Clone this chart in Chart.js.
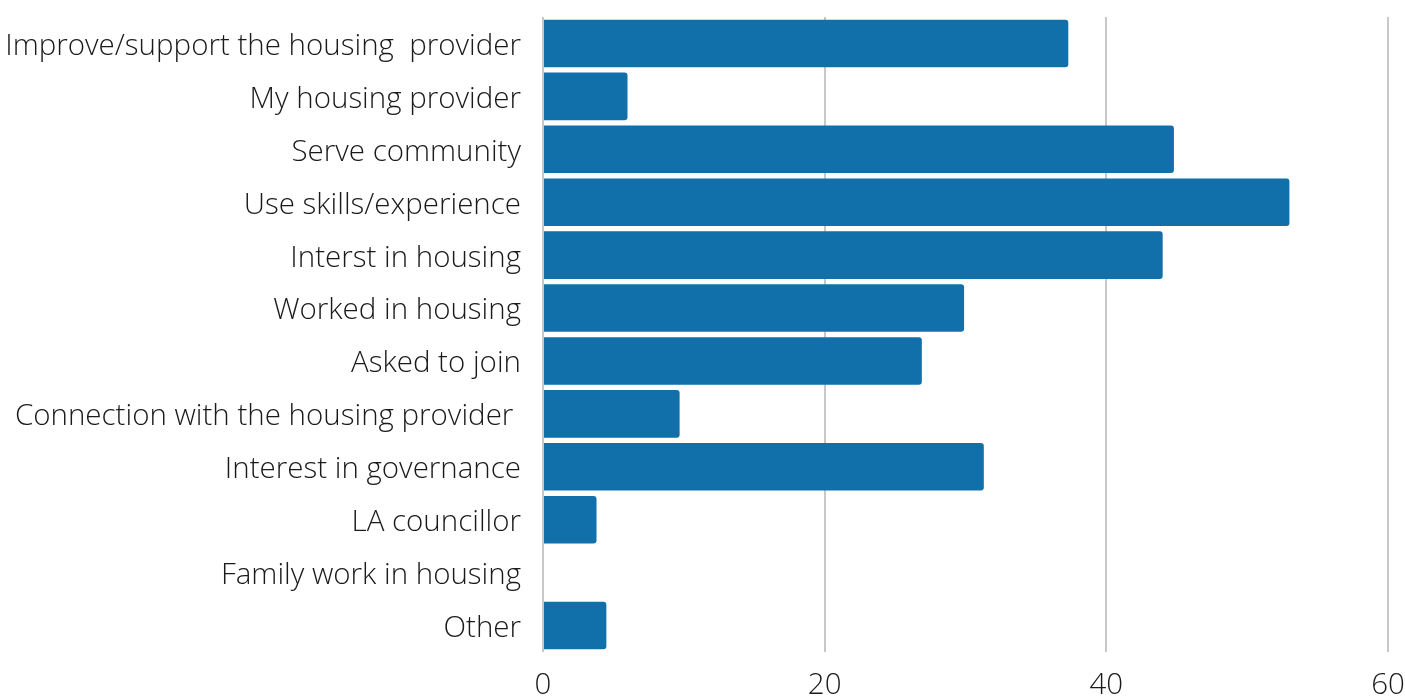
<!DOCTYPE html>
<html>
<head>
<meta charset="utf-8">
<script src="https://cdn.jsdelivr.net/npm/chart.js@4.4.1/dist/chart.umd.min.js"></script>
<style>
    html, body { margin: 0; padding: 0; background: #fff; }
    #wrap { width: 1405px; height: 697px; position: relative; }
</style>
</head>
<body>
<div id="wrap"><canvas id="reasonsChart"></canvas></div>
<script>
const categories = [
    'Improve/support the housing  provider',
    'My housing provider',
    'Serve community',
    'Use skills/experience',
    'Interst in housing',
    'Worked in housing',
    'Asked to join',
    'Connection with the housing provider ',
    'Interest in governance',
    'LA councillor',
    'Family work in housing',
    'Other'
];
const responses = [37.3, 6.0, 44.8, 53.0, 44.0, 29.9, 26.9, 9.7, 31.3, 3.8, 0, 4.5];
const xTicks = [0, 20, 40, 60];

const barColor = '#1170aa';
const gridColor = '#c8c8c8';
const textColor = '#1a1a1a';

Chart.defaults.font.family = "'Open Sans', sans-serif";
Chart.defaults.font.weight = '300';
Chart.defaults.color = textColor;

new Chart(document.getElementById('reasonsChart'), {
    type: 'bar',
    data: {
        labels: categories,
        datasets: [{
            data: responses,
            backgroundColor: barColor,
            borderRadius: { topRight: 3, bottomRight: 3 },
            borderSkipped: 'start',
            barPercentage: 0.9,
            categoryPercentage: 1.0
        }]
    },
    options: {
        indexAxis: 'y',
        responsive: true,
        maintainAspectRatio: false,
        animation: false,
        layout: { padding: { top: 17, right: 17, left: 0, bottom: 0 } },
        plugins: {
            legend: { display: false },
            tooltip: { enabled: false }
        },
        scales: {
            x: {
                min: 0,
                max: 60,
                afterBuildTicks: function (axis) {
                    axis.ticks = xTicks.map(v => ({ value: v }));
                },
                afterFit: function (axis) {
                    axis.height = 45;
                    axis.paddingLeft = 0;
                    axis.paddingRight = 0;
                },
                grid: {
                    color: gridColor,
                    lineWidth: 2,
                    drawTicks: false
                },
                border: { display: false },
                ticks: {
                    font: { size: 29.5, weight: '300' },
                    color: textColor,
                    padding: 16
                }
            },
            y: {
                grid: { display: false, drawTicks: false },
                border: { display: false },
                afterFit: function (axis) {
                    axis.width = 543;
                    axis.paddingTop = 0;
                    axis.paddingBottom = 0;
                },
                ticks: {
                    font: { size: 29.5, weight: '300' },
                    color: textColor,
                    padding: 22,
                    labelOffset: 3,
                    autoSkip: false
                }
            }
        }
    }
});
</script>
</body>
</html>
